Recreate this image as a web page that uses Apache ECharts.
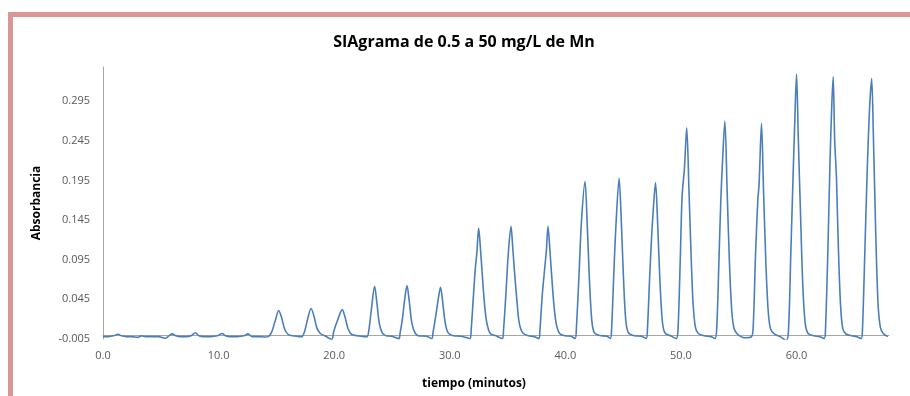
<!DOCTYPE html>
<html>
<head>
<meta charset="utf-8">
<script src="https://cdn.jsdelivr.net/npm/echarts@6/dist/echarts.min.js"></script>
<style>
  html, body { margin: 0; padding: 0; background: #fff; }
  #main { width: 910px; height: 396px; }
</style>
</head>
<body>
<div id="main"></div>
<script>
var tiempo = [
  0.0, 0.5, 0.9, 1.3, 1.6, 2.0, 2.5, 3.0, 3.3, 3.5, 3.8, 4.3, 4.8, 5.4, 5.7, 6.0, 6.3, 6.7, 7.2, 7.6,
  8.0, 8.3, 8.7, 9.3, 9.9, 10.3, 10.6, 11.0, 11.6, 12.2, 12.55, 12.9, 13.5, 14.0,
  14.3, 14.6, 14.9, 15.2, 15.45, 15.7, 16.0, 16.4, 17.0,
  17.2, 17.45, 17.7, 18.0, 18.25, 18.5, 18.8, 19.2, 19.8,
  19.95, 20.3, 20.7, 20.95, 21.2, 21.5, 22.0, 22.6,
  22.85, 23.0, 23.2, 23.5, 23.7, 23.9, 24.15, 24.5, 25.0, 25.6,
  25.7, 25.9, 26.1, 26.3, 26.5, 26.7, 26.95, 27.3, 28.0, 28.45,
  28.55, 28.8, 29.0, 29.2, 29.4, 29.6, 29.85, 30.3, 31.0, 31.75,
  31.85, 32.05, 32.2, 32.35, 32.5, 32.65, 32.8, 33.0, 33.2, 33.5, 34.0, 34.55,
  34.65, 34.85, 35.05, 35.3, 35.45, 35.6, 35.8, 36.0, 36.3, 36.8, 37.3, 37.7,
  37.8, 38.0, 38.2, 38.35, 38.5, 38.65, 38.8, 39.0, 39.2, 39.5, 40.0, 40.5, 40.85,
  40.95, 41.2, 41.4, 41.7, 41.9, 42.07, 42.28, 42.5, 43.0, 43.6, 43.9,
  44.0, 44.2, 44.4, 44.65, 44.85, 45.02, 45.22, 45.45, 46.0, 46.6, 47.0,
  47.1, 47.3, 47.45, 47.55, 47.8, 48.0, 48.17, 48.38, 48.6, 49.1, 49.6,
  49.75, 49.95, 50.1, 50.3, 50.5, 50.7, 50.88, 51.05, 51.25, 51.5, 52.0, 52.6, 52.95,
  53.1, 53.3, 53.45, 53.6, 53.8, 54.0, 54.2, 54.4, 54.6, 54.9, 55.2, 55.5,
  56.1, 56.25, 56.45, 56.65, 56.76, 56.97, 57.15, 57.35, 57.55, 57.75, 58.1, 58.6, 59.1,
  59.3, 59.5, 59.7, 59.85, 60.0, 60.15, 60.35, 60.55, 60.75, 61.0, 61.5, 62.0, 62.4,
  62.5, 62.7, 62.9, 63.05, 63.17, 63.3, 63.45, 63.6, 63.8, 64.0, 64.3, 64.8, 65.2, 65.6,
  65.7, 65.9, 66.1, 66.3, 66.5, 66.65, 66.85, 67.05, 67.25, 67.5, 67.9
];
var absorbancia = [
  -0.002, -0.002, -0.001, 0.001, -0.001, -0.002, -0.002, -0.003, -0.001, -0.0015, -0.002, -0.002, -0.002, -0.004, -0.001, 0.0015, -0.001, -0.002, -0.002, -0.001,
  0.0028, -0.001, -0.002, -0.002, -0.001, 0.002, -0.001, -0.002, -0.002, -0.001, 0.0015, -0.002, -0.002, -0.0025,
  -0.002, 0.004, 0.018, 0.031, 0.022, 0.008, 0.001, -0.001, -0.002,
  -0.002, 0.005, 0.020, 0.0334, 0.024, 0.009, 0.002, -0.001, -0.0056,
  0.004, 0.019, 0.032, 0.022, 0.008, 0.001, -0.001, -0.002,
  -0.002, 0.006, 0.030, 0.0614, 0.040, 0.015, 0.003, -0.001, -0.0015, -0.0045,
  0.002, 0.020, 0.045, 0.0623, 0.042, 0.017, 0.004, -0.001, -0.0015, -0.0045,
  0.003, 0.025, 0.045, 0.0602, 0.040, 0.016, 0.003, -0.001, -0.0015, -0.0045,
  0.006, 0.050, 0.082, 0.105, 0.135, 0.110, 0.079, 0.040, 0.016, 0.002, -0.001, -0.0045,
  0.006, 0.050, 0.100, 0.137, 0.110, 0.080, 0.045, 0.016, 0.003, -0.001, -0.002, -0.0045,
  0.006, 0.050, 0.082, 0.105, 0.137, 0.110, 0.078, 0.040, 0.015, 0.002, -0.001, -0.0015, -0.0045,
  0.007, 0.082, 0.145, 0.1935, 0.137, 0.074, 0.0195, 0.003, -0.0006, -0.0015, -0.0044,
  0.007, 0.080, 0.145, 0.1978, 0.140, 0.075, 0.020, 0.003, -0.001, -0.0015, -0.0044,
  0.007, 0.075, 0.120, 0.145, 0.1922, 0.135, 0.072, 0.019, 0.003, -0.001, -0.0045,
  0.008, 0.100, 0.175, 0.210, 0.2614, 0.180, 0.100, 0.040, 0.010, 0.002, -0.001, -0.002, -0.0045,
  0.010, 0.100, 0.170, 0.220, 0.2698, 0.180, 0.090, 0.030, 0.008, 0.001, -0.002, -0.0035,
  -0.002, 0.010, 0.100, 0.170, 0.190, 0.267, 0.180, 0.090, 0.030, 0.008, 0.001, -0.002, -0.0069,
  0.005, 0.100, 0.200, 0.270, 0.329, 0.250, 0.150, 0.060, 0.015, 0.002, -0.001, -0.002, -0.0044,
  0.005, 0.100, 0.220, 0.290, 0.3256, 0.246, 0.200, 0.120, 0.040, 0.008, 0.001, -0.001, -0.002, -0.0045,
  0.005, 0.100, 0.200, 0.280, 0.3236, 0.250, 0.130, 0.040, 0.010, 0.002, -0.002
];

var titulo = 'SIAgrama de 0.5 a 50 mg/L de Mn'

var chart = echarts.init(document.getElementById('main'));

var puntos = tiempo.map(function (t, i) { return [t, absorbancia[i]]; });

var option = {
    animation: false,
    backgroundColor: '#fff',
    grid: { left: 103, right: 21, top: 67, bottom: 57 },
    graphic: [
        // marco rosado (arriba e izquierda)
        { type: 'rect', shape: { x: 8, y: 12, width: 902, height: 5 }, style: { fill: '#d99694' } },
        { type: 'rect', shape: { x: 8, y: 12, width: 5, height: 384 }, style: { fill: '#d99694' } },
        {
            type: 'text', x: 464, y: 42,
            style: {
                text: titulo, align: 'center', verticalAlign: 'middle',
                font: 'bold 16px "Open Sans"', fill: '#000'
            }
        }
    ],
    xAxis: {
        type: 'value', min: 0, max: 68, interval: 10,
        name: 'tiempo (minutos)', nameLocation: 'middle', nameGap: 39,
        nameTextStyle: { fontFamily: 'Open Sans', fontWeight: 'bold', fontSize: 12, color: '#000', padding: [0, 44, 0, 0] },
        axisLine: { lineStyle: { color: '#a6a6a6', width: 1 } },
        axisTick: { show: false },
        splitLine: { show: false },
        axisLabel: {
            showMaxLabel: false, margin: 11,
            fontFamily: 'Open Sans', fontSize: 11, color: '#595959',
            formatter: function (v) { return v.toFixed(1); }
        }
    },
    yAxis: {
        type: 'value', min: -0.005, max: 0.338, interval: 0.05,
        name: 'Absorbancia', nameLocation: 'middle', nameGap: 60,
        nameTextStyle: { fontFamily: 'Open Sans', fontWeight: 'bold', fontSize: 12, color: '#000' },
        axisLine: { show: true, lineStyle: { color: '#a6a6a6', width: 1 } },
        axisTick: { show: false },
        splitLine: { show: false },
        axisLabel: {
            showMaxLabel: false, margin: 13,
            fontFamily: 'Open Sans', fontSize: 11, color: '#595959',
            formatter: function (v) { return v.toFixed(3); }
        }
    },
    series: [{
        type: 'line',
        data: puntos,
        showSymbol: false,
        smooth: 0.3,
        lineStyle: { color: '#4a7ebb', width: 1.6 },
        z: 3
    }]
};

chart.setOption(option);
</script>
</body>
</html>
